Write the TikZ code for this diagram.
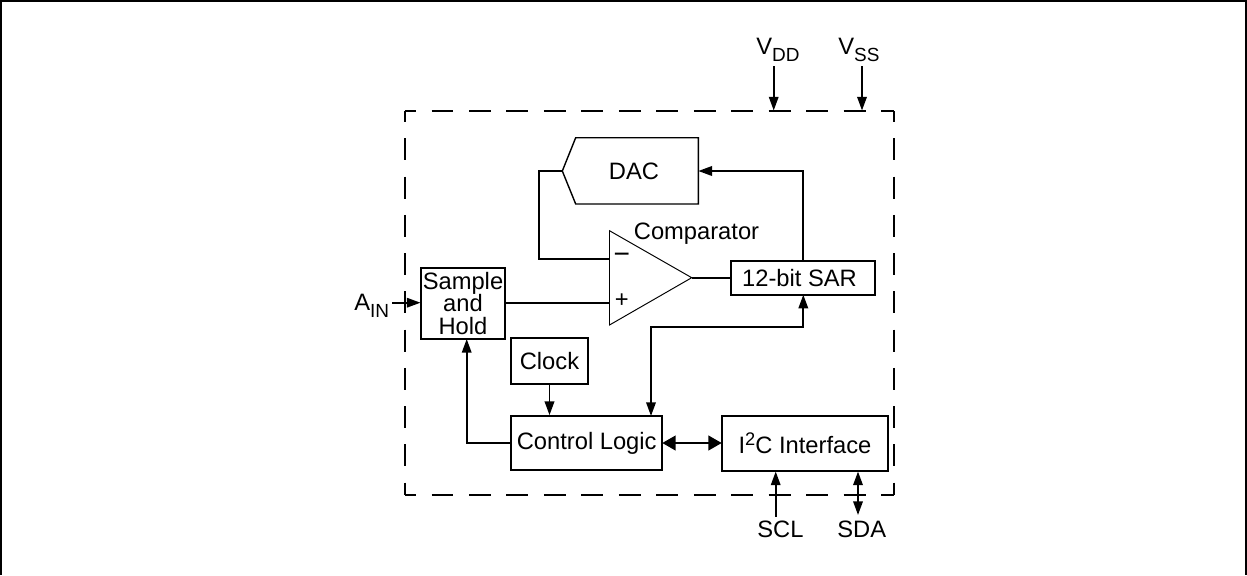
\documentclass[tikz,border=0pt]{standalone}
\usepackage{fontspec}
\setmainfont{Liberation Sans}
\usetikzlibrary{arrows.meta}
\newcommand{\lowtxt}[1]{\raisebox{-4pt}{\fontsize{10.8}{10.8}\selectfont #1}}
\newcommand{\hightxt}[1]{\raisebox{4.8pt}{\fontsize{10.4}{10.4}\selectfont #1}}
\tikzset{
  blockbox/.style={draw, line width=1.1pt, inner sep=0pt, align=center},
  wire/.style={line width=1.1pt},
  thinwire/.style={line width=.55pt},
  intip/.style={wire, -{Triangle[length=7.8pt,width=5.4pt]}},
  bothtip/.style={wire, {Triangle[length=7.8pt,width=5.4pt]}-{Triangle[length=7.8pt,width=5.4pt]}},
  widetip/.style={wire, {Triangle[length=7.6pt,width=8.4pt]}-{Triangle[length=7.6pt,width=8.4pt]}},
  pinlabel/.style={anchor=base west, inner sep=0pt},
  hdash/.style={wire, dash pattern=on 12.47pt off 8.85pt, dash phase=6.2pt},
  vdash/.style={wire, dash pattern=on 12.47pt off 9.3pt, dash phase=6.2pt},
}
\begin{document}
\begin{tikzpicture}[x=0.02cm, y=-0.02cm, font=\fontsize{13.5}{12.75}\selectfont]
\useasboundingbox (0,0) rectangle (1247,575);
% outer frame
\draw[line width=1.1pt] (0.8,575) -- (0.8,0.8) -- (1246.2,0.8) -- (1246.2,575);
% dashed outline
\coordinate (nw) at (405,111);
\coordinate (ne) at (894.3,111);
\coordinate (sw) at (405,495);
\coordinate (se) at (894.3,495);
\draw[hdash] (nw) -- (ne);
\draw[hdash] (sw) -- (se);
\draw[vdash] (nw) -- (sw);
\draw[vdash] (ne) -- (se);
% blocks
\node[blockbox, minimum width=47.6, minimum height=40.2] (hold) at (463,303.5) {Sample\\and\\Hold};
\node[blockbox, minimum width=43.6, minimum height=26.1] (clock) at (549.5,361) {Clock};
\node[blockbox, minimum width=85.8, minimum height=30.6] (logic) at (586.7,443) {Control Logic};
\node[blockbox, minimum width=94.5, minimum height=31.2] (iic) at (805,443.5) {I\hightxt{2}C Interface};
\node[blockbox, minimum width=82, minimum height=19.3] (sar) at (803,277.7) {\kern-4pt 12-bit SAR};
\node[inner sep=0pt] (dac) at (634,171) {DAC};
\node[inner sep=0pt] (cmp) at (696.5,234) {Comparator};
\node[inner sep=0pt] (minus) at (621.7,258) {\fontsize{16}{16}\selectfont −};
\node[inner sep=0pt] (plus) at (621.7,300.7) {+};
% dac outline
\coordinate (dactip) at (562.3,171);
\coordinate (dacin) at (698.3,171);
\draw[line width=.8pt] (575.7,137.7) -- (698.3,137.7) -- (698.3,204) -- (575.7,204) -- (dactip) -- cycle;
% comparator outline
\coordinate (cmptip) at (691.7,277.7);
\coordinate (cmpneg) at (609.5,259.3);
\coordinate (cmppos) at (609.5,302.7);
\draw[thinwire] (609.5,230.7) -- (cmptip) -- (609.5,325) -- cycle;
% connections
\coordinate (sarup) at (803.3,260.7);
\coordinate (sardown) at (803.3,294.7);
\coordinate (logicup) at (651,416);
\coordinate (holdin) at (466.7,339);
\coordinate (holdout) at (505,302.7);
\coordinate (holdleft) at (420.5,302.7);
\coordinate (logicside) at (662.3,443);
\coordinate (iicside) at (721.7,443);
\draw[wire] (dactip) -- (539,171) -- (539,259.3) -- (cmpneg);
\draw[wire] (holdout) -- (cmppos);
\draw[wire] (cmptip) -- (sar.west);
\draw[intip] (sarup) |- (dacin);
\draw[bothtip] (logicup) |- (651,326.7) -| (sardown);
\draw[intip] (clock.south) -- (logic.north -| clock.south);
\draw[intip] (logic.west) -| (holdin);
\draw[widetip] (logicside) -- (iicside);
% pins
\node[pinlabel] (vdd) at (756,54.3) {V\lowtxt{DD}};
\node[pinlabel] (vss) at (838,54.3) {V\lowtxt{SS}};
\node[pinlabel] (ain) at (354,310) {A\lowtxt{IN}};
\node[pinlabel] (scl) at (757,537) {SCL};
\node[pinlabel] (sda) at (837,537) {SDA};
\draw[intip] (773.7,66) coordinate (vddtop) -- (773.7,110.5) coordinate (vddend);
\draw[intip] (862,66) coordinate (vsstop) -- (862,110.5) coordinate (vssend);
\draw[intip] (392,302.7) coordinate (ainend) -- (holdleft);
\draw[intip] (775.7,516.7) coordinate (sclend) -- (775.7,471.5) coordinate (sclin);
\draw[bothtip] (858,515) coordinate (sdaend) -- (858,471.5) coordinate (sdain);
\end{tikzpicture}
\end{document}
